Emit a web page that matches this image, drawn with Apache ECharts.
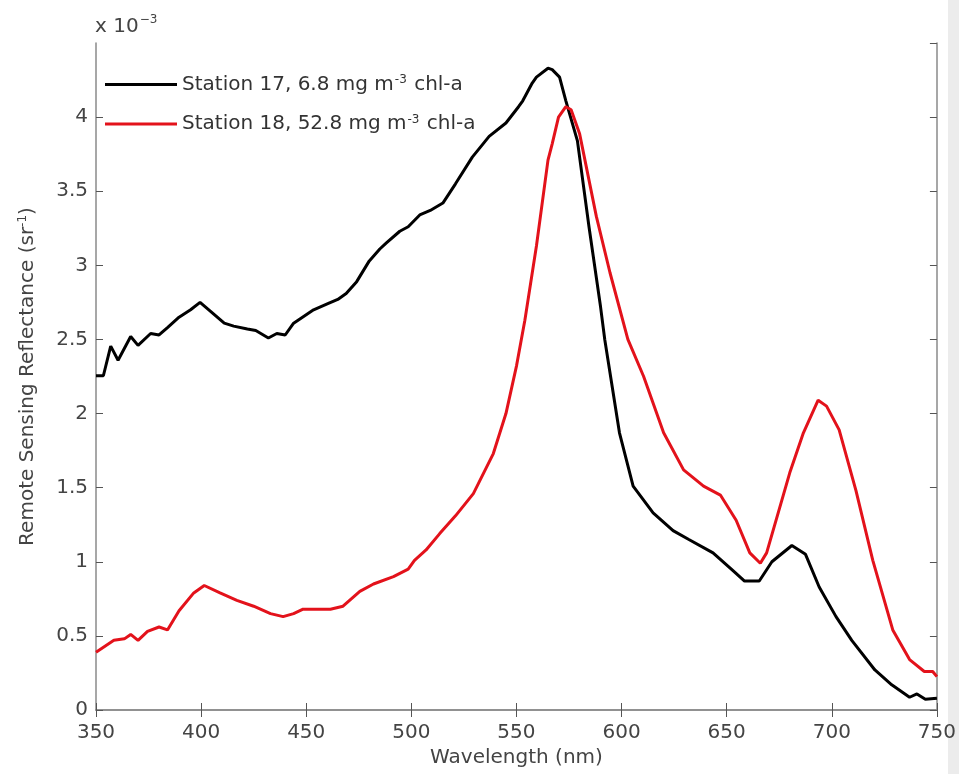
<!DOCTYPE html>
<html>
<head>
<meta charset="UTF-8">
<title>Remote Sensing Reflectance</title>
<script src="https://cdn.jsdelivr.net/npm/echarts@6/dist/echarts.min.js"></script>
<style>
  html, body { margin: 0; padding: 0; background: #fff; }
  #main { width: 959px; height: 774px; }
</style>
</head>
<body>
<div id="main"></div>
<script>
// wavelength (nm) and Rsr (x 10^-3 sr^-1)
var wl17 = [350, 353.5, 357, 360.5, 366.5, 370, 376, 380, 384, 389.5, 395, 399.5, 404.5, 411, 415.5, 422, 426, 432, 436, 440,
  444, 453.5, 460, 465, 469, 474, 480, 485, 488, 494.5, 498.5, 504, 509, 515, 521, 529, 537, 545, 551, 553,
  557.5, 559.5, 565, 567, 570.5, 573.5, 579, 584.5, 590, 592, 599, 605.5, 615, 624.5, 632, 643.5, 653, 658.5, 665.5, 671.5,
  681, 687.5, 694, 702, 709.5, 720.5, 728.5, 737, 740.5, 744.5, 750];
var rs17 = [2.255, 2.255, 2.455, 2.36, 2.52, 2.46, 2.54, 2.53, 2.58, 2.65, 2.70, 2.75, 2.69, 2.61, 2.59, 2.57, 2.56, 2.51, 2.54, 2.53,
  2.61, 2.70, 2.74, 2.77, 2.81, 2.89, 3.03, 3.11, 3.15, 3.23, 3.26, 3.34, 3.37, 3.42, 3.55, 3.73, 3.87, 3.96, 4.07, 4.11,
  4.23, 4.27, 4.33, 4.32, 4.27, 4.11, 3.84, 3.26, 2.72, 2.50, 1.87, 1.51, 1.33, 1.21, 1.15, 1.06, 0.94, 0.87, 0.87, 1.00,
  1.11, 1.05, 0.83, 0.63, 0.47, 0.27, 0.17, 0.086, 0.108, 0.072, 0.079];

var wl18 = [350, 358.5, 363.5, 366.5, 370, 374.5, 380, 384, 389.5, 396.5, 401.5, 409, 417, 425, 433, 439, 444, 448.5, 456.5, 461.5,
  467.5, 475.5, 482, 491.5, 498.5, 501.5, 507, 513.5, 521, 529.5, 539, 545, 550, 554, 559.5, 565, 567, 570, 573.5, 576,
  580, 588, 594.5, 603, 610.5, 620, 629.5, 639, 647, 654.5, 661, 666, 669, 680, 686.5, 693.5, 697.5, 703.5, 711.5, 719.5,
  729, 737, 744, 748, 750];
var rs18 = [0.39, 0.47, 0.48, 0.51, 0.47, 0.53, 0.56, 0.54, 0.67, 0.79, 0.84, 0.79, 0.74, 0.70, 0.65, 0.63, 0.65, 0.68, 0.68, 0.68,
  0.70, 0.80, 0.85, 0.90, 0.95, 1.01, 1.08, 1.19, 1.31, 1.46, 1.73, 2.0, 2.32, 2.63, 3.13, 3.71, 3.82, 4.0, 4.07, 4.05,
  3.89, 3.33, 2.95, 2.50, 2.25, 1.87, 1.62, 1.51, 1.45, 1.28, 1.06, 0.99, 1.06, 1.60, 1.87, 2.09, 2.05, 1.89, 1.48, 1.01,
  0.54, 0.34, 0.26, 0.26, 0.225];

var names = ['Station 17, 6.8 mg m-3 chl-a', 'Station 18, 52.8 mg m-3 chl-a'];

function pairs(xs, ys) {
  return xs.map(function (x, i) { return [x, ys[i]]; });
}

var font = 'DejaVu Sans, Arial, sans-serif';
var frame = { show: true, lineStyle: { color: '#8a8a8a', width: 1.5 } };
var tick = { show: true, inside: true, length: 7, lineStyle: { color: '#555' } };
var supStyle = { fontFamily: font, fontSize: 12, color: '#333', verticalAlign: 'top', padding: [0, 1, 9, 1] };

var myChart = echarts.init(document.getElementById('main'));
var option = {
  animation: false,
  backgroundColor: '#fff',
  grid: { left: 96, right: 21, top: 43, bottom: 64 },
  legend: {
    orient: 'vertical',
    left: 100,
    top: 69,
    icon: 'rect',
    itemWidth: 72,
    itemHeight: 3,
    itemGap: 19,
    textStyle: {
      fontFamily: font, fontSize: 20, color: '#333',
      rich: { sup: supStyle }
    },
    formatter: function (name) {
      return name.replace('m-3', 'm{sup|-3}');
    },
    data: names
  },
  xAxis: [{
    type: 'value',
    min: 350, max: 750, interval: 50,
    position: 'bottom',
    axisLine: frame,
    axisTick: tick,
    splitLine: { show: false },
    axisLabel: { fontFamily: font, fontSize: 20, color: '#444', margin: 13 },
    name: 'Wavelength (nm)',
    nameLocation: 'middle',
    nameGap: 38,
    nameTextStyle: { fontFamily: font, fontSize: 20, color: '#444' }
  }, {
    type: 'value',
    min: 350, max: 750, interval: 50,
    position: 'top',
    axisLine: frame,
    axisTick: tick,
    splitLine: { show: false },
    axisLabel: { show: false }
  }],
  yAxis: [{
    type: 'value',
    min: 0, max: 4.5, interval: 0.5,
    position: 'left',
    axisLine: frame,
    axisTick: tick,
    splitLine: { show: false },
    axisLabel: { fontFamily: font, fontSize: 20, color: '#444', margin: 8, showMaxLabel: false },
    name: 'Remote Sensing Reflectance (sr{sup|-1})',
    nameLocation: 'middle',
    nameGap: 58,
    nameTextStyle: {
      fontFamily: font, fontSize: 20, color: '#444',
      rich: { sup: { fontFamily: font, fontSize: 12, color: '#444', verticalAlign: 'top', padding: [0, 0, 9, 0] } }
    }
  }, {
    type: 'value',
    min: 0, max: 4.5, interval: 0.5,
    position: 'right',
    axisLine: frame,
    axisTick: tick,
    splitLine: { show: false },
    axisLabel: { show: false }
  }],
  graphic: [{
    type: 'rect',
    right: 0, top: 0,
    shape: { width: 11, height: 774 },
    style: { fill: '#ececec' },
    silent: true
  }, {
    type: 'text',
    left: 95, top: 14,
    style: {
      text: 'x 10{sup|\u22123}',
      fontFamily: font, fontSize: 20, fill: '#444',
      rich: { sup: { fontFamily: font, fontSize: 12, fill: '#444', padding: [0, 0, 14, 1] } }
    }
  }],
  series: [{
    name: names[0],
    type: 'line',
    symbol: 'none',
    smooth: false,
    lineStyle: { color: '#000', width: 3 },
    itemStyle: { color: '#000' },
    data: pairs(wl17, rs17)
  }, {
    name: names[1],
    type: 'line',
    symbol: 'none',
    smooth: false,
    lineStyle: { color: '#e3121b', width: 3 },
    itemStyle: { color: '#e3121b' },
    data: pairs(wl18, rs18)
  }]
};
myChart.setOption(option);
</script>
</body>
</html>
